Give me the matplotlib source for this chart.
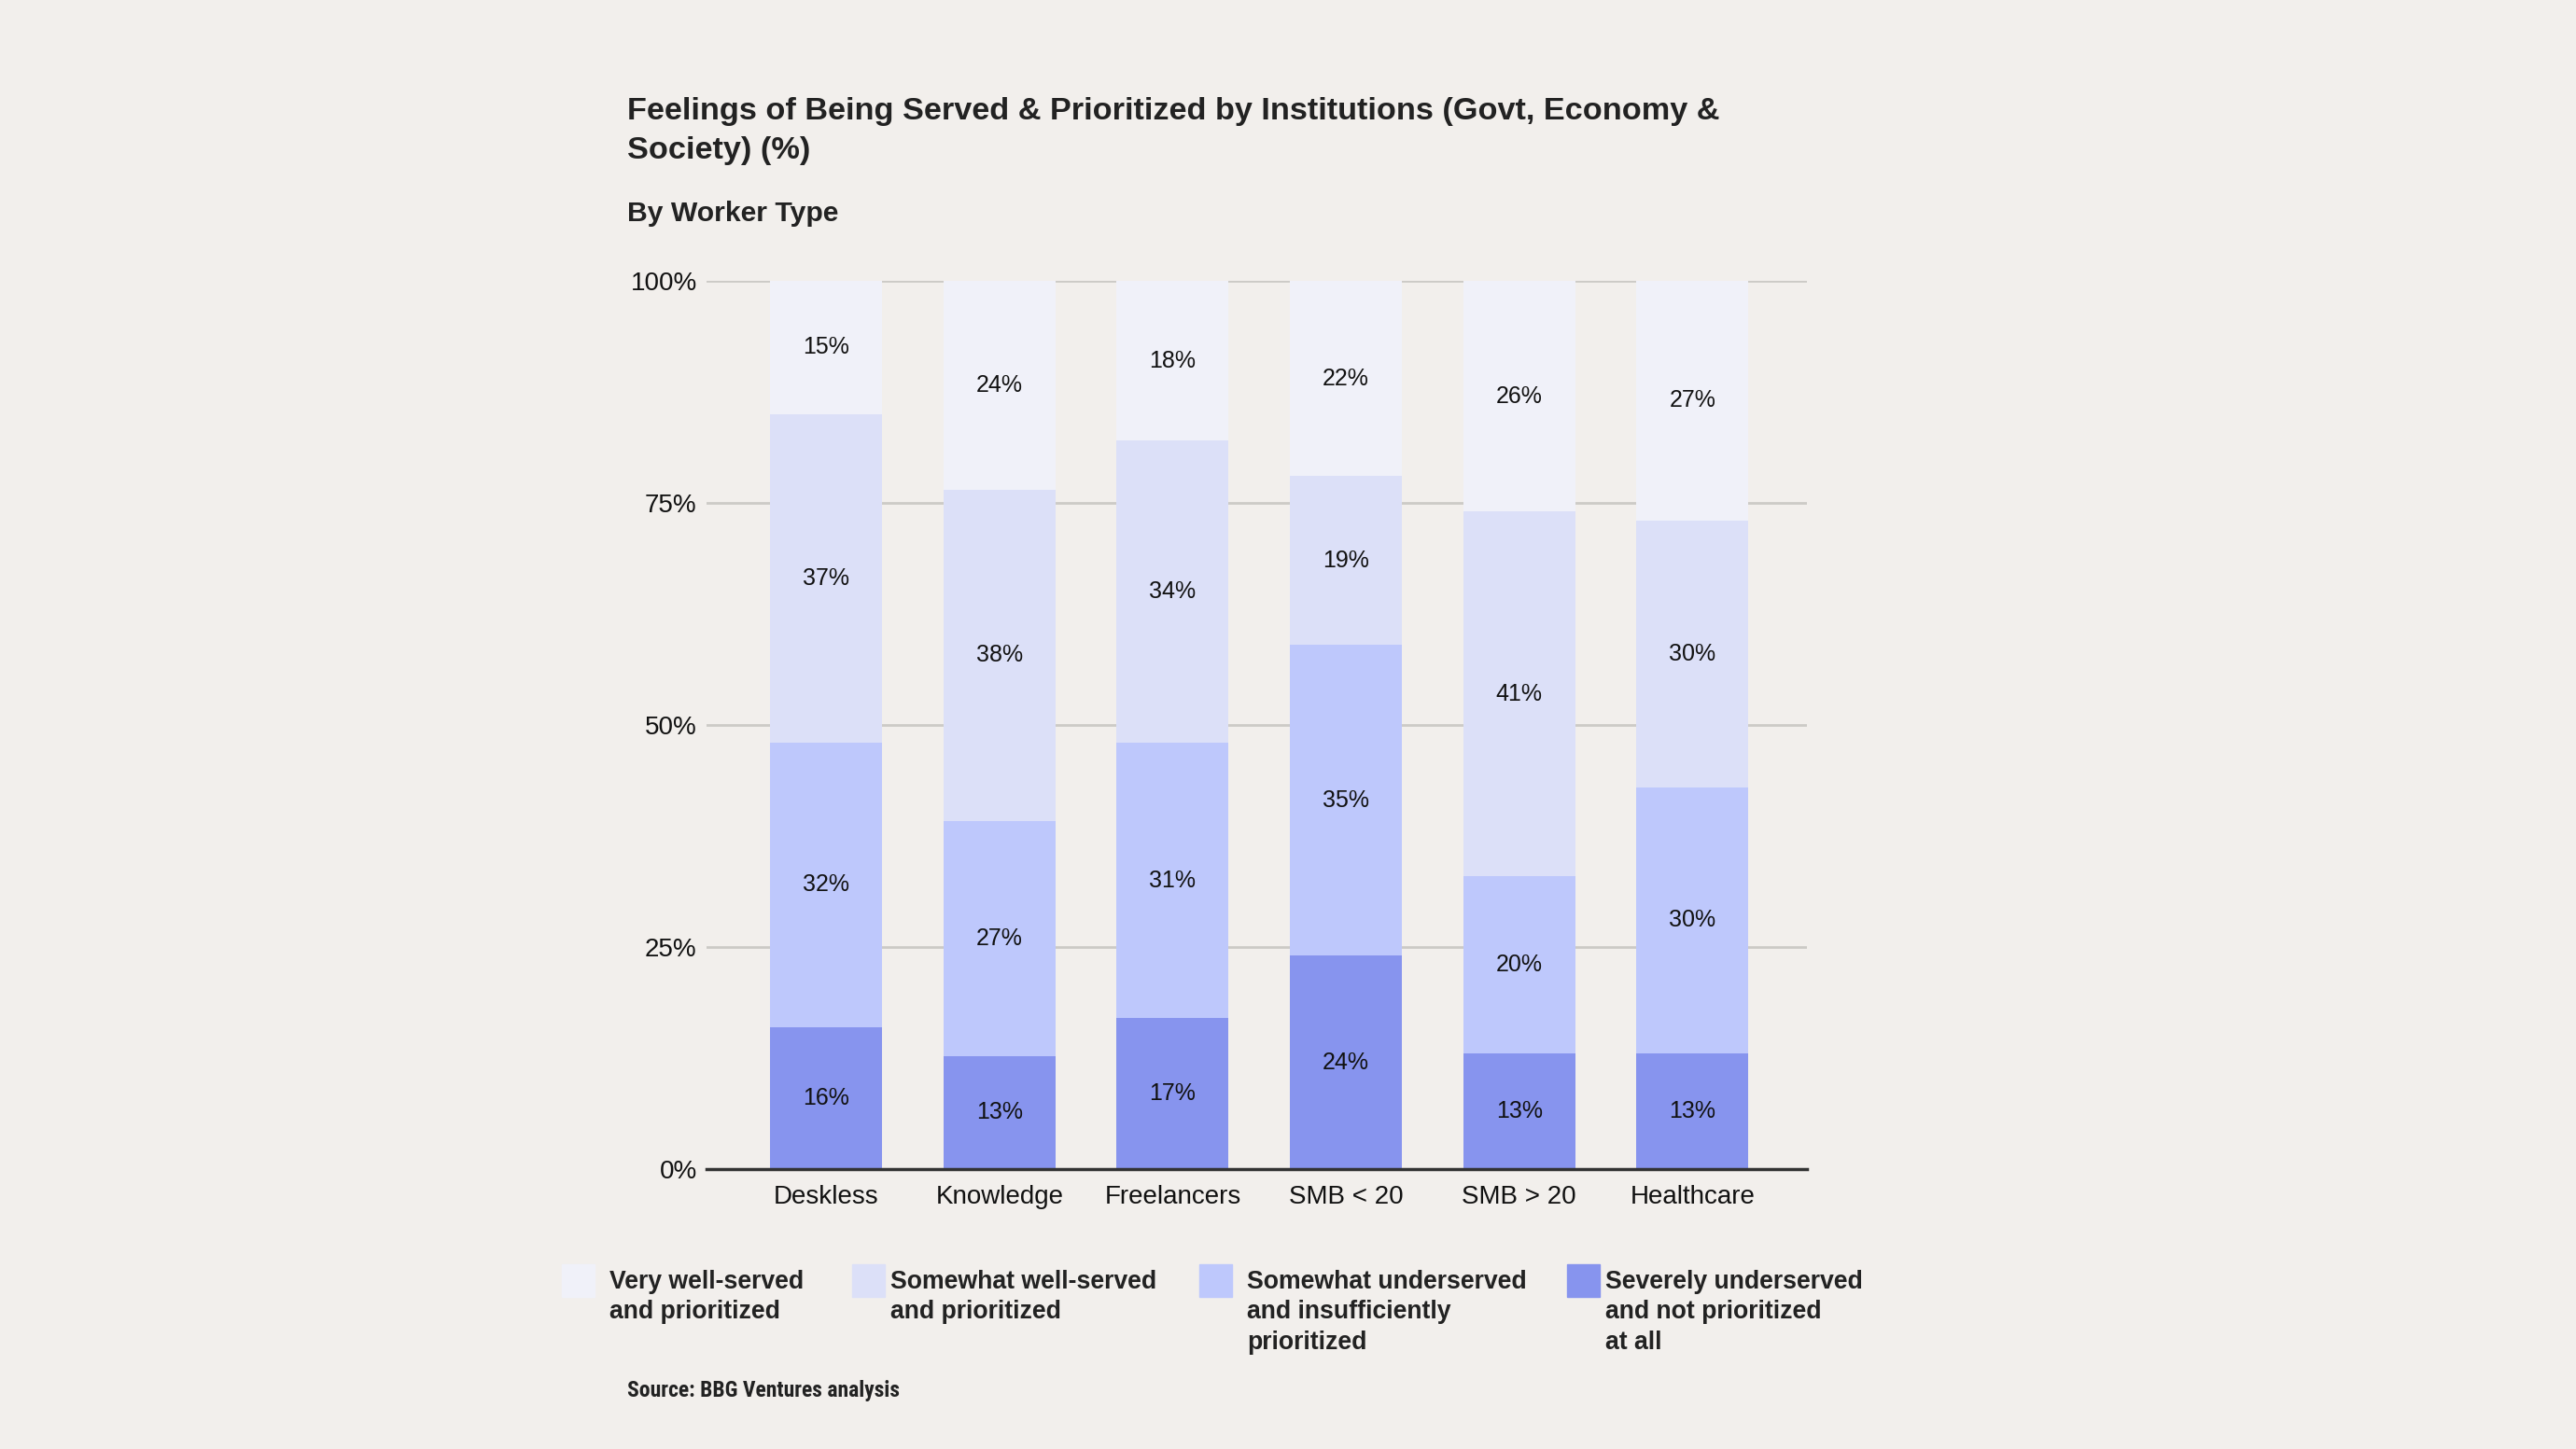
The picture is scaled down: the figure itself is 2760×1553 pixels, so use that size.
import numpy as np
import matplotlib
matplotlib.use("Agg")
from matplotlib import pyplot as plt
from matplotlib.patches import Rectangle
from matplotlib import font_manager

# ---------------------------------------------------------------------------
# DATA
# ---------------------------------------------------------------------------
categories = ["Deskless", "Knowledge", "Freelancers", "SMB < 20", "SMB > 20", "Healthcare"]

severely_under = [16, 13, 17, 24, 13, 13]
somewhat_under = [32, 27, 31, 35, 20, 30]
somewhat_well = [37, 38, 34, 19, 41, 30]
very_well = [15, 24, 18, 22, 26, 27]

series_labels = [
    "Severely underserved\nand not prioritized\nat all",
    "Somewhat underserved\nand insufficiently\nprioritized",
    "Somewhat well-served\nand prioritized",
    "Very well-served\nand prioritized",
]
colors = ["#8794EE", "#BEC8FC", "#DCE0F8", "#F0F1F9"]

y_ticks = [0, 25, 50, 75, 100]
y_ticklabels = ["0%", "25%", "50%", "75%", "100%"]

title = "Feelings of Being Served & Prioritized by Institutions (Govt, Economy &\nSociety) (%)"
subtitle = "By Worker Type"
source = "Source: BBG Ventures analysis"

BG = "#F2EFEC"
plt.rcParams["font.family"] = ["Liberation Sans", "DejaVu Sans"]

# condensed face for the source line, if one is installed
names = {f.name for f in font_manager.fontManager.ttflist}
narrow = [n for n in ("Liberation Sans Narrow", "DejaVu Sans Condensed", "Roboto Condensed",
                      "Open Sans Condensed") if n in names]

# ---------------------------------------------------------------------------
# FIGURE
# ---------------------------------------------------------------------------
fig = plt.figure(figsize=(27.6, 15.53), dpi=100)
fig.set_facecolor(BG)
ax = fig.add_axes([0.2743, 0.1932, 0.7014 - 0.2743, 0.8062 - 0.1932])
ax.set_facecolor(BG)

series = [severely_under, somewhat_under, somewhat_well, very_well]
raw = np.array(series, dtype=float)
pct = raw / raw.sum(axis=0) * 100  # 100% stacked
x = np.arange(len(categories))

bottom = np.zeros(len(categories))
for vals, p, col in zip(series, pct, colors):
    bars = ax.bar(x, p, bottom=bottom, width=0.647, color=col, zorder=2)
    ax.bar_label(bars, labels=[f"{v}%" for v in vals], label_type="center",
                 fontsize=18, color="#111111")
    bottom += p

ax.set_xlim(-0.69, len(categories) - 1 + 0.66)
ax.set_ylim(0, 100)
ax.set_yticks(y_ticks)
ax.set_yticklabels(y_ticklabels, fontsize=20, color="#111111")
ax.set_xticks(x)
ax.set_xticklabels(categories, fontsize=20, color="#111111")
ax.tick_params(axis="both", length=0)
ax.tick_params(axis="y", pad=7.5)
ax.tick_params(axis="x", pad=12)
ax.grid(axis="y", color="#CCCAC6", linewidth=2, zorder=0)
for s in ("top", "right", "left"):
    ax.spines[s].set_visible(False)
ax.spines["bottom"].set_color("#333333")
ax.spines["bottom"].set_linewidth(2.5)
ax.spines["bottom"].set_zorder(3)

# ---------------------------------------------------------------------------
# TITLES
# ---------------------------------------------------------------------------
W, H = 2760, 1553
fig.text(672 / W, 1 - 104 / H, title, fontsize=24.7, fontweight="bold",
         color="#222222", ha="left", va="top", linespacing=1.47)
fig.text(672 / W, 1 - 229 / H, subtitle, fontsize=21.7, fontweight="bold",
         color="#222222", ha="left", va="center")

# ---------------------------------------------------------------------------
# LEGEND (manual, left to right: very well -> severely)
# ---------------------------------------------------------------------------
swatch_x = [602, 913, 1285, 1679]
text_x = [653, 954, 1336, 1720]
order = [3, 2, 1, 0]
for sx, tx, i in zip(swatch_x, text_x, order):
    fig.patches.append(Rectangle((sx / W, 1 - 1390 / H), 35 / W, 35 / H,
                                 transform=fig.transFigure, color=colors[i]))
    fig.text(tx / W, 1 - 1361 / H, series_labels[i], fontsize=19.2,
             fontweight="bold", color="#222222", ha="left", va="top",
             linespacing=1.32)

if narrow:
    fig.text(672 / W, 1 - 1491 / H, source, fontsize=17, fontweight="bold",
             color="#222222", ha="left", va="center", family=[narrow[0], "DejaVu Sans"])
else:
    fig.text(672 / W, 1 - 1491 / H, source, fontsize=15, fontweight="bold",
             color="#222222", ha="left", va="center", family=["Liberation Sans", "DejaVu Sans"])

fig.savefig("out.png", dpi=100, facecolor=BG)
